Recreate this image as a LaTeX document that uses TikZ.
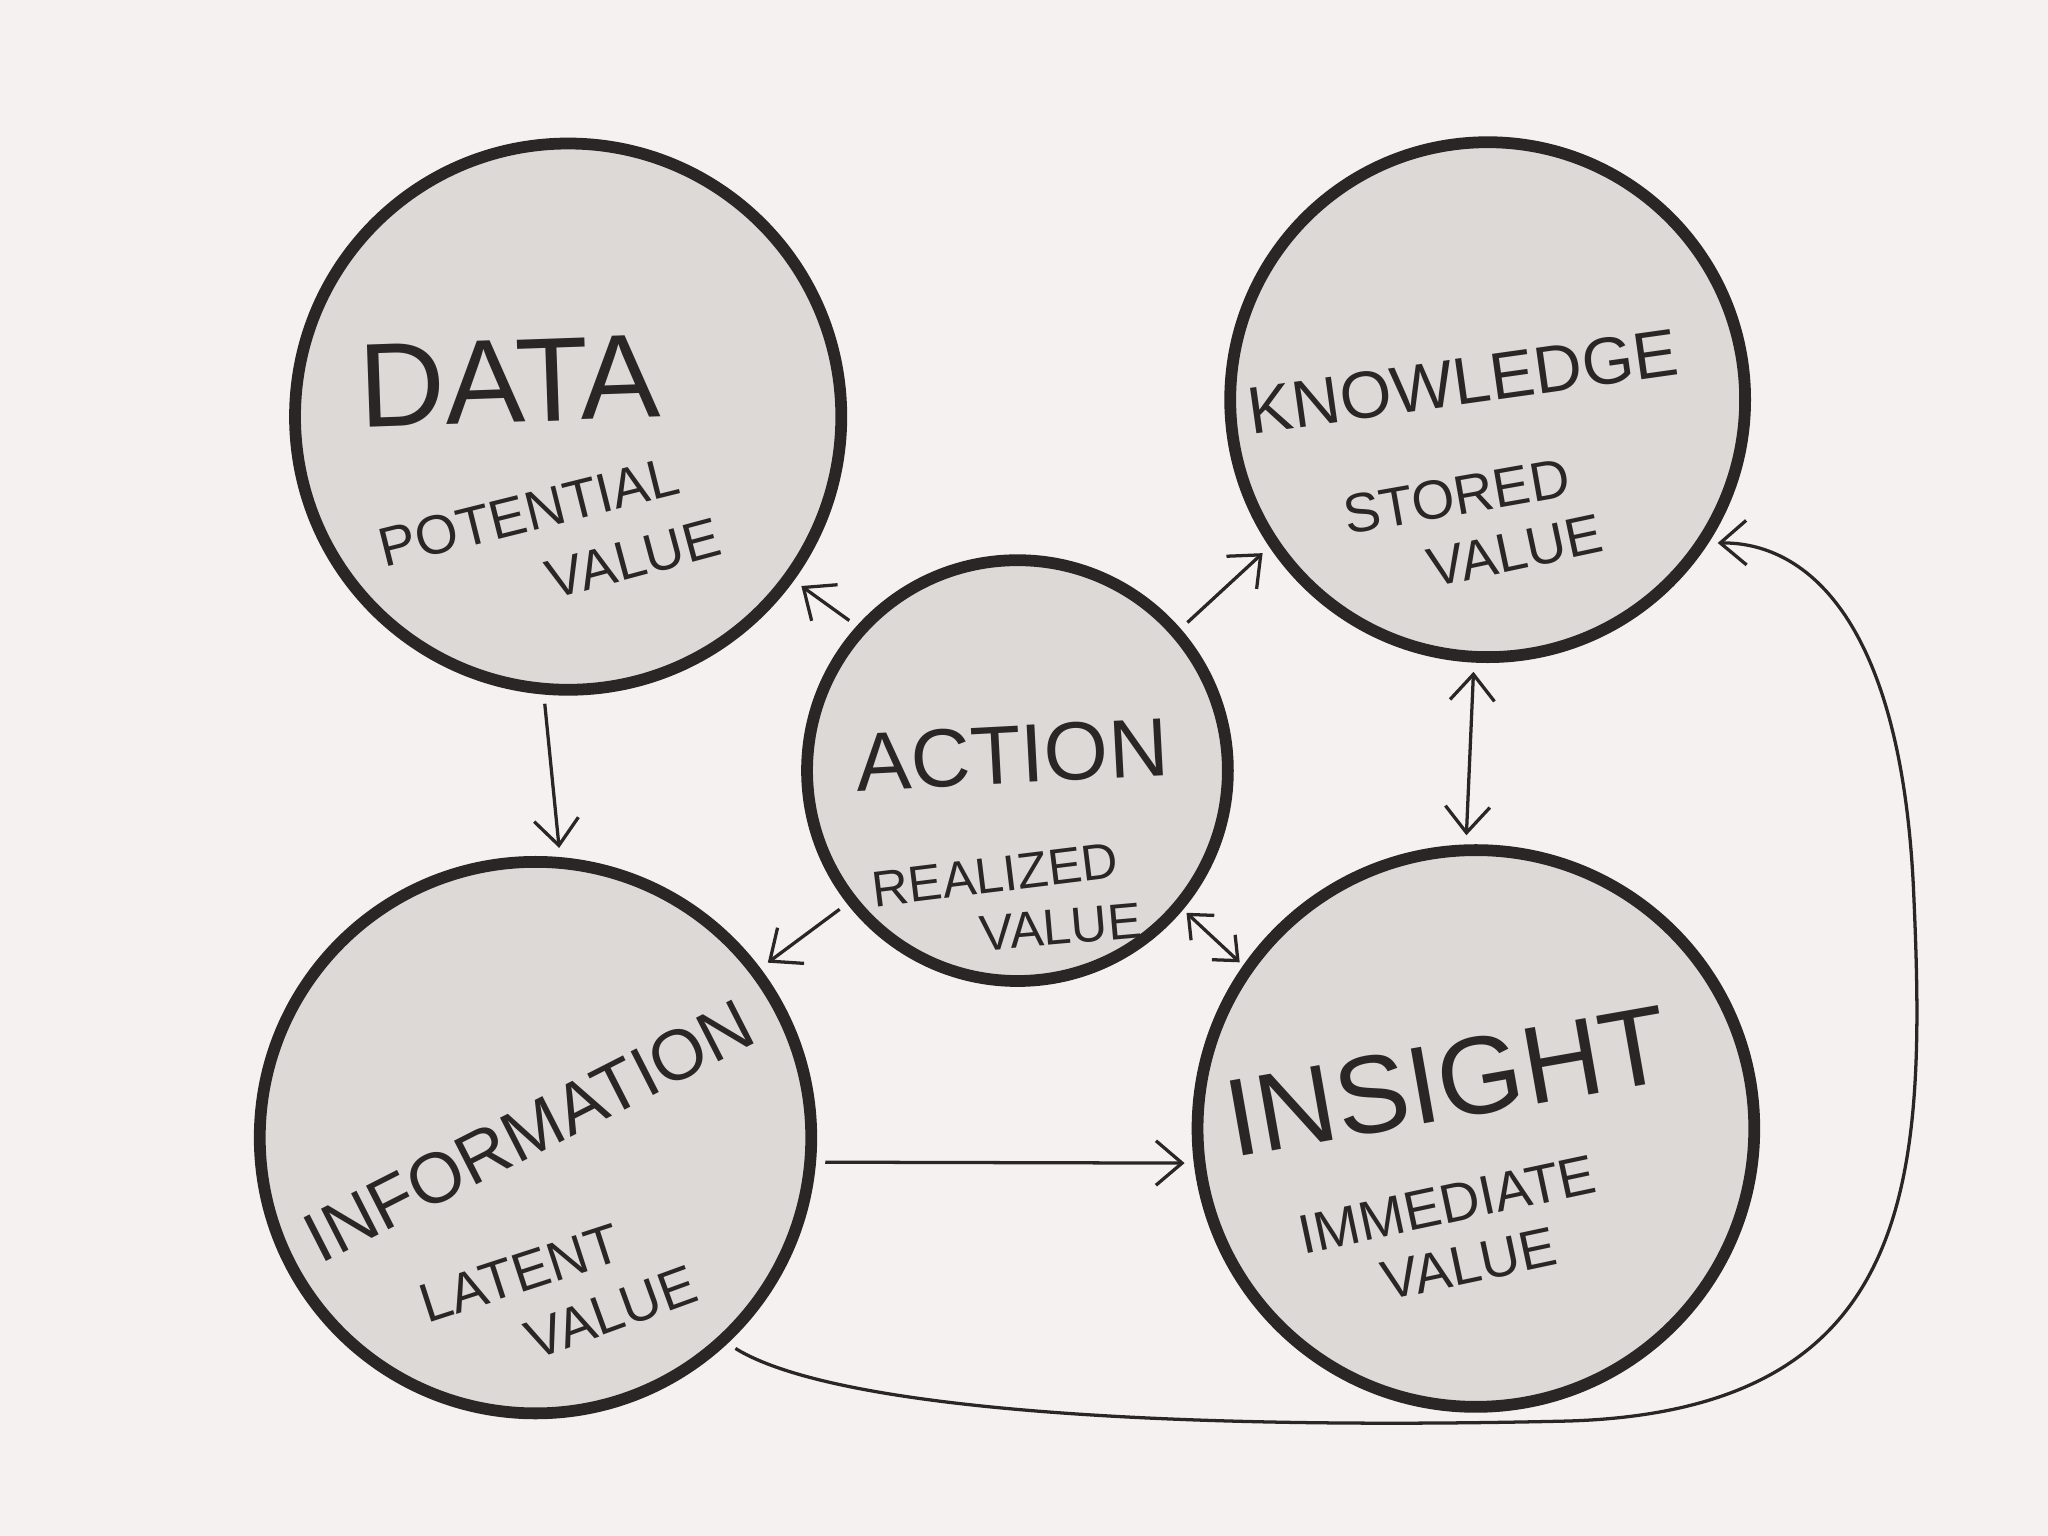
\documentclass[tikz,border=0pt]{standalone}
\usepackage{fontspec}
\setmainfont{Liberation Sans}
\usetikzlibrary{arrows.meta}
\definecolor{bg}{HTML}{F5F1F0}
\definecolor{fillc}{HTML}{DCD9D6}
\definecolor{ink}{HTML}{2A2626}
\begin{document}
\begin{tikzpicture}[x=0.01cm,y=-0.01cm,
  barb/.tip={Straight Barb[length=0.2cm,width=0.34cm]},
  sbarb/.tip={Straight Barb[length=0.15cm,width=0.26cm]},
  circ/.style={circle,draw=ink,fill=fillc,line width=0.09cm,inner sep=0pt},
  conn/.style={draw=ink,line width=0.025cm,-barb,shorten >=2pt,shorten <=2pt},
  dconn/.style={draw=ink,line width=0.025cm,barb-barb,shorten >=2pt,shorten <=2pt},
  lbl/.style={text=ink,inner sep=0pt},
  small/.style={lbl,font=\fontsize{12}{14}\selectfont}]
\fill[bg] (0,0) rectangle (1568,1176);
\useasboundingbox (0,0) rectangle (1568,1176);
\node[circ,minimum size=4.18cm] (data) at (435,319) {};
\node[circ,minimum size=3.94cm] (know) at (1139,306) {};
\node[circ,minimum size=3.22cm] (act) at (779,590) {};
\node[circ,minimum size=4.22cm] (info) at (410,871) {};
\node[circ,minimum size=4.26cm] (ins) at (1130,864) {};
% texts
\node[lbl,rotate=2,font=\fontsize{26}{28}\selectfont] (t1) at (390,292) {DATA};
\node[small,rotate=14] (t2) at (405,392) {POTENTIAL};
\node[small,rotate=15] (t3) at (485,428) {VALUE};
\node[lbl,rotate=8,font=\fontsize{14.5}{17}\selectfont] (t4) at (1120,292) {KNOWLEDGE};
\node[small,rotate=10] (t5) at (1115,380) {STORED};
\node[small,rotate=12] (t6) at (1160,422) {VALUE};
\node[lbl,rotate=3,font=\fontsize{18}{21}\selectfont] (t7) at (775,578) {ACTION};
\node[lbl,rotate=7,font=\fontsize{11}{13}\selectfont] (t8) at (762,670) {REALIZED};
\node[lbl,rotate=5,font=\fontsize{11}{13}\selectfont] (t9) at (812,710) {VALUE};
\node[lbl,rotate=27,font=\fontsize{15.5}{18}\selectfont] (t10) at (405,866) {INFORMATION};
\node[small,rotate=18] (t11) at (398,975) {LATENT};
\node[small,rotate=20] (t12) at (468,1005) {VALUE};
\node[lbl,rotate=10,font=\fontsize{24}{26}\selectfont] (t13) at (1108,828) {INSIGHT};
\node[small,rotate=12] (t14) at (1108,922) {IMMEDIATE};
\node[small,rotate=12] (t15) at (1125,968) {VALUE};
% connectors
\draw[conn] (act.138) -- (data.-36);
\draw[conn] (act.41) -- (know.-146);
\draw[conn] (act.-142) -- (info.37);
\draw[draw=ink,line width=0.025cm,sbarb-sbarb,shorten >=1pt,shorten <=1pt] (act.-40) -- (ins.145);
\draw[conn] (data.-95) -- (info.85);
\draw[dconn] (know.-93) -- (ins.92);
\draw[conn] (info.-5) -- (ins.187);
\draw[conn] (info.-47) .. controls (640,1080) and (900,1095) .. (1200,1088)
  .. controls (1470,1080) and (1475,900) .. (1465,680)
  .. controls (1455,470) and (1380,415) .. (know.-33);
\end{tikzpicture}
\end{document}
